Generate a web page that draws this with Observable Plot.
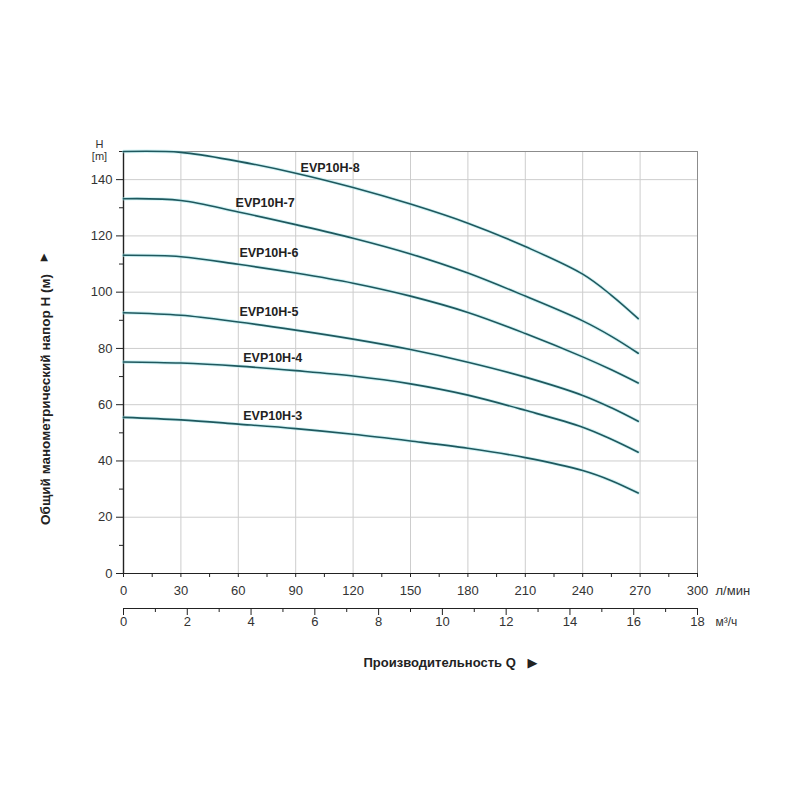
<!DOCTYPE html>
<html>
<head>
<meta charset="utf-8">
<script src="https://cdn.jsdelivr.net/npm/d3@7"></script>
<script src="https://cdn.jsdelivr.net/npm/@observablehq/plot@0.6"></script>
<style>
  body { margin: 0; background: #fff; }
  svg { display: block; }
</style>
</head>
<body>
<div id="chart"></div>
<script>
// ---- data ----
const flow = [0, 30, 60, 90, 120, 150, 180, 210, 240, 255, 269]; // л/мин
const headEVP10H3 = [55.5, 54.6, 53.1, 51.5, 49.5, 47.1, 44.5, 41.2, 36.6, 33.0, 28.6];
const headEVP10H4 = [75.2, 74.8, 73.7, 72.1, 70.2, 67.4, 63.4, 58.0, 52.0, 47.7, 43.1];
const headEVP10H5 = [92.7, 91.8, 89.4, 86.5, 83.3, 79.6, 75.1, 69.8, 63.3, 58.9, 54.1];
const headEVP10H6 = [113.1, 112.6, 109.9, 106.8, 103.2, 98.6, 92.8, 85.3, 77.0, 72.4, 67.7];
const headEVP10H7 = [133.2, 132.6, 128.5, 124.0, 119.2, 113.6, 106.8, 98.6, 89.8, 84.3, 78.3];
const headEVP10H8 = [150.0, 149.7, 146.5, 142.3, 137.2, 131.3, 124.5, 116.2, 106.4, 98.9, 90.6];
const models = ["EVP10H-3", "EVP10H-4", "EVP10H-5", "EVP10H-6", "EVP10H-7", "EVP10H-8"];
const heads = [headEVP10H3, headEVP10H4, headEVP10H5, headEVP10H6, headEVP10H7, headEVP10H8];
const labelFlow = [78, 78, 76, 76, 74, 108];
const labelHead = [56.1, 76.5, 92.9, 114, 131.8, 144];

const xTicksLpm = [0, 30, 60, 90, 120, 150, 180, 210, 240, 270, 300];
const xMinorLpm = [15, 45, 75, 105, 135, 165, 195, 225, 255, 285];
const xTicksM3h = [0, 2, 4, 6, 8, 10, 12, 14, 16, 18];
const xMinorM3h = [1, 3, 5, 7, 9, 11, 13, 15, 17];
const yTicks = [0, 20, 40, 60, 80, 100, 120, 140];
const yMinor = [10, 30, 50, 70, 90, 110, 130, 150];
const LPM_PER_M3H = 1000 / 60;

const yTitle = "Общий манометрический напор H (м)";
const xTitle = "Производительность Q";
const unitLpm = "л/мин";
const unitM3h = "м³/ч";

// ---- build tables ----
const rows = models.flatMap((m, i) => flow.map((q, j) => ({model: m, q, h: heads[i][j]})));
const labelRows = models.map((m, i) => ({model: m, q: labelFlow[i], h: labelHead[i]}));

const ink = "#222";
const gridColor = "#cdcdcd";
const curveColor = "#1f585e";
const font = "'Liberation Sans', Arial, sans-serif";

const plot = Plot.plot({
  width: 800,
  height: 700,
  marginLeft: 123,
  marginRight: 103,
  marginTop: 151,
  marginBottom: 127,
  style: {fontFamily: font, fontSize: "13px", color: "#333", background: "#fff"},
  x: {domain: [0, 300]},
  y: {domain: [0, 150]},
  marks: [
    Plot.gridX(xTicksLpm, {stroke: gridColor, strokeOpacity: 1}),
    Plot.gridY(yTicks, {stroke: gridColor, strokeOpacity: 1}),
    Plot.frame({stroke: "#8c8c8c"}),
    Plot.ruleX([0], {stroke: ink, strokeWidth: 1.4}),
    Plot.ruleY([0], {stroke: ink, strokeWidth: 1.2}),
    Plot.axisY(yTicks, {tickSize: 7, tickPadding: 4, label: null, fontSize: 13, stroke: ink}),
    Plot.axisY(yMinor, {tickSize: 4, tickFormat: () => "", label: null, stroke: ink}),
    Plot.axisX(xTicksLpm, {tickSize: 4, tickPadding: 8, label: null, fontSize: 13, stroke: ink}),
    Plot.axisX(xMinorLpm, {tickSize: 4, tickFormat: () => "", label: null, stroke: ink}),
    Plot.ruleY([0], {dy: 35, stroke: ink, strokeWidth: 1.2}),
    Plot.axisX(xTicksM3h.map(v => v * LPM_PER_M3H), {
      tickSize: 7, tickPadding: 1, dy: 35, label: null, fontSize: 13, stroke: ink,
      tickFormat: d => String(Math.round(d / LPM_PER_M3H))
    }),
    Plot.axisX(xMinorM3h.map(v => v * LPM_PER_M3H), {tickSize: 4, dy: 35, tickFormat: () => "", label: null, stroke: ink}),
    Plot.line(rows, {x: "q", y: "h", z: "model", curve: "catmull-rom", stroke: "#9fe6ea", strokeWidth: 3.4, strokeOpacity: 0.5}),
    Plot.line(rows, {x: "q", y: "h", z: "model", curve: "catmull-rom", stroke: curveColor, strokeWidth: 1.6}),
    Plot.text(labelRows, {x: "q", y: "h", text: "model", fontWeight: "bold", fontSize: 12.5, fill: "#222"}),
    Plot.text(["H"], {frameAnchor: "top-left", textAnchor: "middle", lineAnchor: "middle", dx: -24, dy: -7.5, fontSize: 11, fill: "#333"}),
    Plot.text(["[m]"], {frameAnchor: "top-left", textAnchor: "middle", lineAnchor: "middle", dx: -24, dy: 4.5, fontSize: 11, fill: "#333"}),
    Plot.text([unitLpm], {frameAnchor: "bottom-right", textAnchor: "start", lineAnchor: "middle", dx: 18, dy: 17, fontSize: 13, fill: "#333"}),
    Plot.text([unitM3h], {frameAnchor: "bottom-right", textAnchor: "start", lineAnchor: "middle", dx: 18, dy: 49, fontSize: 12, fill: "#333"}),
    Plot.text([xTitle], {frameAnchor: "bottom", textAnchor: "start", lineAnchor: "middle", dx: -47, dy: 89, fontWeight: "bold", fontSize: 13, fill: "#222"}),
    Plot.text(["▶"], {frameAnchor: "bottom", textAnchor: "middle", lineAnchor: "middle", dx: 122, dy: 89, fontSize: 13, fill: "#222", fontFamily: "DejaVu Sans"}),
    Plot.text([yTitle], {frameAnchor: "left", textAnchor: "middle", lineAnchor: "middle", dx: -78, dy: 37, rotate: -90, fontWeight: "bold", fontSize: 13.5, fill: "#222"}),
    Plot.text(["▲"], {frameAnchor: "left", textAnchor: "middle", lineAnchor: "middle", dx: -79.5, dy: -106, fontSize: 10, fill: "#222", fontFamily: "DejaVu Sans"})
  ]
});
document.getElementById("chart").appendChild(plot);
</script>
</body>
</html>
